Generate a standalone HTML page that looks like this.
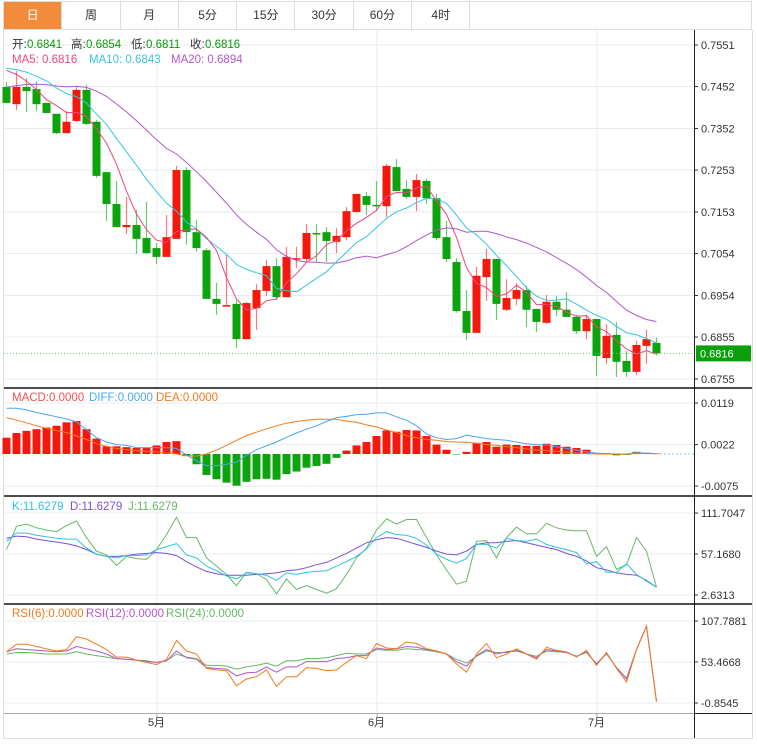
<!DOCTYPE html>
<html><head><meta charset="utf-8"><style>
body{margin:0;background:#fff;width:757px;height:747px;overflow:hidden;font-family:"Liberation Sans","Noto Sans CJK SC",sans-serif}
#tabs{position:absolute;left:3px;top:1px;width:749px;height:29px;border:1px solid #ddd;box-sizing:border-box;display:flex}
.tab{width:58.3px;height:27px;border-right:1px solid #ddd;box-sizing:border-box;text-align:center;line-height:27px;font-size:12px;color:#333}
.tab.on{background:#f28c3c;color:#fff}
svg{position:absolute;left:0;top:0;overflow:hidden}
text{font-family:"Liberation Sans","Noto Sans CJK SC",sans-serif}
</style></head><body>
<div id="tabs">
<div class="tab on">日</div>
<div class="tab">周</div>
<div class="tab">月</div>
<div class="tab">5分</div>
<div class="tab">15分</div>
<div class="tab">30分</div>
<div class="tab">60分</div>
<div class="tab">4时</div>
</div>
<svg id="c" width="757" height="747"></svg>
<script>
const opens=[7451,7410,7451,7446,7413,7387,7341,7370,7444,7368,7248,7172,7117,7122,7091,7067,7046,7089,7253,7105,7062,6946,6929,6934,6850,6924,6965,7024,6950,7041,7041,7103,7105,7082,7093,7153,7191,7170,7167,7260,7208,7189,7227,7186,7093,7034,6917,6865,6998,7041,6920,6946,6967,6922,6889,6939,6920,6903,6869,6898,6805,6860,6798,6772,6834,6841];
const highs=[7463,7489,7472,7465,7413,7387,7394,7453,7456,7372,7248,7227,7189,7158,7177,7079,7146,7263,7260,7134,7067,6984,7053,6943,6939,6981,7039,7043,7070,7070,7124,7124,7117,7115,7165,7196,7201,7227,7268,7279,7229,7244,7232,7196,7132,7043,6967,7022,7065,7041,6993,6984,6977,6922,6955,6953,6962,6908,6908,6898,6886,6891,6822,6846,6872,6854];
const lows=[7413,7396,7391,7394,7389,7339,7341,7368,7360,7234,7132,7117,7101,7053,7053,7029,7046,7089,7075,7058,6946,6908,6929,6829,6850,6872,6953,6943,6950,7020,7034,7034,7034,7055,7086,7151,7146,7155,7141,7203,7184,7155,7172,7086,7034,6913,6848,6865,6941,6896,6917,6931,6879,6867,6886,6905,6903,6862,6850,6762,6791,6760,6760,6765,6791,6811];
const closes=[7413,7451,7441,7410,7389,7341,7368,7444,7363,7239,7172,7117,7122,7089,7055,7046,7093,7253,7105,7067,6946,6934,6931,6850,6936,6967,7024,6950,7046,7043,7103,7101,7084,7096,7155,7196,7170,7167,7263,7203,7189,7229,7186,7091,7041,6917,6865,7001,7041,6934,6948,6967,6920,6891,6939,6920,6903,6869,6898,6810,6858,6796,6772,6836,6850,6816];
const priorCloses=[7380,7390,7400,7400,7410,7410,7420,7410,7420,7420,7480,7500,7510,7500,7510,7500,7520,7510,7510];
const priceTicks=[0.7551,0.7452,0.7352,0.7253,0.7153,0.7054,0.6954,0.6855,0.6755];
const macdHist=[38,49,54,58,62,66,74,77,58,36,18,18,16,14,14,20,28,30,-5,-24,-49,-59,-67,-74,-65,-59,-58,-60,-47,-41,-32,-28,-23,-9,8,20,28,42,55,52,56,55,42,22,10,-1,5,26,28,17,22,21,19,19,24,21,17,14,10,2,2,-3,-2,5,3,1];
const diffVals=[107,107,103,97,92,87,82,75,57,38,28,22,20,15,15,15,15,13,-2,-16,-27,-27,-24,-19,-3,10,19,28,39,49,58,66,76,85,88,92,93,96,96,87,79,66,47,38,34,36,44,40,36,34,32,28,24,22,21,17,13,9,5,2,1,0,0,3,2,1];
const deaVals=[85,79,73,66,60,55,50,42,34,24,18,13,10,8,6,5,2,0,-4,-5,0,9,20,32,43,51,59,66,72,76,79,81,81,81,77,74,68,63,56,50,43,38,34,32,29,28,27,25,22,20,17,15,12,9,8,6,4,2,1,0,0,0,0,1,1,1];
const macdTicks=[0.0119,0.0022,-0.0075];
const kVals=[74,85,85,82,80,78,77,77,65,57,54,52,55,55,56,63,67,71,56,52,41,35,28,24,32,31,29,22,32,30,33,34,35,41,47,54,64,79,87,83,82,78,69,57,50,45,51,70,70,65,78,75,74,77,70,66,63,59,44,47,33,33,44,30,21,13];
const dVals=[78,81,80,77,75,73,71,68,63,57,54,54,55,57,58,59,58,55,47,40,34,31,29,29,29,30,31,32,35,36,39,43,46,52,58,65,72,76,79,78,74,70,66,61,57,56,61,70,72,72,74,75,72,69,66,63,58,54,48,39,36,32,30,29,22,13];
const jVals=[63,94,97,92,89,87,95,101,79,61,56,42,54,51,50,63,83,106,79,79,52,41,30,15,33,31,23,4,24,10,15,10,5,11,30,52,65,89,104,97,103,103,79,56,36,17,21,74,75,52,79,93,84,84,98,92,89,88,88,54,67,37,43,79,61,13];
const kdjTicks=[111.7047,57.1680,2.6313];
const rsi6=[67,77,77,74,71,68,70,87,84,77,70,60,60,56,53,50,57,82,68,64,45,43,42,22,31,34,43,21,34,34,46,45,42,43,53,62,58,78,72,71,80,78,71,68,64,51,40,64,78,59,64,71,64,57,73,69,67,60,69,49,66,45,27,70,101,1];
const rsi12=[67,71,70,69,68,67,68,74,71,68,64,58,57,56,54,53,55,68,59,57,46,45,44,35,39,40,47,40,47,47,54,54,54,58,59,62,62,72,70,71,74,73,70,68,64,54,48,62,70,64,67,69,64,59,70,68,66,61,67,51,65,46,31,70,101,1];
const rsi24=[64,66,66,65,64,64,64,67,64,62,60,58,57,56,55,53,55,64,60,58,49,49,48,44,47,49,52,48,55,55,58,58,59,62,65,64,64,70,69,69,71,70,69,67,64,57,52,61,68,66,66,68,64,61,68,67,66,61,66,51,64,46,32,70,101,1];
const rsiTicks=[107.7881,53.4668,-0.8545];
const monthLabels=['5月','6月','7月'];
const monthIdx=[15,37,59];

const svg=document.getElementById('c');
const NS='http://www.w3.org/2000/svg';
function el(tag,attrs,parent){const e=document.createElementNS(NS,tag);for(const k in attrs)e.setAttribute(k,attrs[k]);(parent||svg).appendChild(e);return e;}
const AX=694, RED='#f5180c', GRN='#0ca40c';
const xOf=i=>6.5+10*i;
const yP=p=>45+(0.7551-p)*(334/0.0796);
const yM=v=>454-v*(41.5/97);   // v in units of 0.0001
const yK=v=>554-(v-57.168)*(41/54.5367);
const yR=v=>662-(v-53.4668)*(41/54.3213);

function hgrid(ys,name){ys.forEach(y=>{const l=el('line',{x1:4,x2:AX,y1:y,y2:y,stroke:'#e6edf2','stroke-width':1});});}
hgrid(priceTicks.map(yP),'price-gridline');
hgrid(macdTicks.map(v=>yM(v*10000)),'macd-gridline');
hgrid(kdjTicks.map(yK),'kdj-gridline');
hgrid(rsiTicks.map(yR),'rsi-gridline');
monthIdx.forEach(i=>{const l=el('line',{x1:xOf(i)+0.5,x2:xOf(i)+0.5,y1:30,y2:713,stroke:'#e6edf2'});});
el('line',{x1:3.5,x2:3.5,y1:30,y2:738,stroke:'#ddd'});
el('line',{x1:752.5,x2:752.5,y1:30,y2:738,stroke:'#ddd'});
el('line',{x1:3,x2:753,y1:738.5,y2:738.5,stroke:'#ddd'});
el('line',{x1:AX+0.5,x2:AX+0.5,y1:30,y2:738,stroke:'#222'});
[388,496,604].forEach(y=>{const l=el('line',{x1:4,x2:752,y1:y,y2:y,stroke:'#111','stroke-width':1.5});});
el('line',{x1:4,x2:AX,y1:713.5,y2:713.5,stroke:'#aaa'});
el('line',{x1:AX,x2:752,y1:713.5,y2:713.5,stroke:'#222'});

function axisLabels(vals,yf,fmt,name){vals.forEach(v=>{const y=yf(v);el('line',{x1:AX,x2:AX+4,y1:y,y2:y,stroke:'#333'});const t=el('text',{x:AX+7,y:y+4,'font-size':11,fill:'#333'});t.textContent=fmt(v);});}
axisLabels(priceTicks,yP,v=>v.toFixed(4),'price-axis-label');
axisLabels(macdTicks,v=>yM(v*10000),v=>v.toFixed(4),'macd-axis-label');
axisLabels(kdjTicks,yK,v=>v.toFixed(4),'kdj-axis-label');
axisLabels(rsiTicks,yR,v=>v.toFixed(4),'rsi-axis-label');
monthLabels.forEach((m,k)=>{const x=xOf(monthIdx[k]);el('line',{x1:x+0.5,x2:x+0.5,y1:713,y2:717,stroke:'#aaa'});const t=el('text',{x:x,y:726,'font-size':11,fill:'#333','text-anchor':'middle'});t.textContent=m;});

const N=closes.length;
for(let i=0;i<N;i++){
  const o=opens[i]/10000,c=closes[i]/10000,h=highs[i]/10000,l=lows[i]/10000;
  const up=c>=o, col=up?RED:GRN, x=xOf(i);
  const w=el('line',{x1:x,x2:x,y1:yP(h),y2:yP(l),stroke:up?'#f77':'#6c6','stroke-width':1.2});
  
  
  const top=yP(Math.max(o,c)),bot=yP(Math.min(o,c));
  const b=el('rect',{x:x-4,y:top,width:8,height:Math.max(1.5,bot-top),fill:col});
  
  
}
const all=priorCloses.concat(closes);
function ma(n){const r=[];for(let i=0;i<N;i++){let s=0;for(let k=0;k<n;k++)s+=all[i+priorCloses.length-k];r.push(s/n/10000);}return r;}
function poly(vals,yf,color,name,w){const pts=vals.map((v,i)=>xOf(i)+','+yf(v).toFixed(1)).join(' ');const p=el('polyline',{points:pts,fill:'none',stroke:color,'stroke-width':w||1});}
poly(ma(20),yP,'#b455cc','ma20-line');
poly(ma(10),yP,'#36c6e0','ma10-line');
poly(ma(5),yP,'#f0457a','ma5-line');
const cp=closes[N-1]/10000,cy=yP(cp);
const dl=el('line',{x1:4,x2:AX,y1:cy,y2:cy,stroke:'#7c7','stroke-dasharray':'1,2'});

const bx=el('rect',{x:696,y:cy-8,width:55,height:16,fill:'#0aa00a'});

const bt=el('text',{x:700,y:cy+4,'font-size':11,fill:'#fff'});bt.textContent=cp.toFixed(4);

el('line',{x1:660,x2:AX,y1:yM(0),y2:yM(0),stroke:'#8cc8e8','stroke-dasharray':'2,2'});
macdHist.forEach((v,i)=>{const y0=yM(0),y1=yM(v);const r=el('rect',{x:xOf(i)-4,y:Math.min(y0,y1),width:8,height:Math.max(0.5,Math.abs(y1-y0)),fill:v>=0?RED:GRN});});
poly(diffVals,yM,'#4aa6f0','diff-line');
poly(deaVals,yM,'#f27a1c','dea-line');
poly(jVals,yK,'#66b866','j-line');
poly(dVals,yK,'#7a50d8','d-line');
poly(kVals,yK,'#2cc4e0','k-line');
poly(rsi24,yR,'#66b866','rsi24-line');
poly(rsi12,yR,'#b455cc','rsi12-line');
poly(rsi6,yR,'#f27a1c','rsi6-line');

function legendAt(y,items,name){items.forEach(([t,c,x])=>{const e=el('text',{x:x,y:y,'font-size':11.5,fill:c});e.textContent=t;});}
legendAt(48,[['开:','#333',12],['0.6841','#0a9a0a',27],['高:','#333',71],['0.6854','#0a9a0a',86],['低:','#333',131],['0.6811','#0a9a0a',146],['收:','#333',190],['0.6816','#0a9a0a',205]],'ohlc-legend');
legendAt(63,[['MA5: 0.6816','#f0457a',12],['MA10: 0.6843','#36c6e0',89],['MA20: 0.6894','#b455cc',171]],'ma-legend');
legendAt(401,[['MACD:0.0000','#f05050',12],['DIFF:0.0000','#4aa6f0',89],['DEA:0.0000','#f27a1c',156]],'macd-legend');
legendAt(510,[['K:11.6279','#2cc4e0',12],['D:11.6279','#7a50d8',70],['J:11.6279','#66b866',128]],'kdj-legend');
legendAt(617,[['RSI(6):0.0000','#f27a1c',12],['RSI(12):0.0000','#b455cc',86],['RSI(24):0.0000','#66b866',166]],'rsi-legend');
</script>
</body></html>
